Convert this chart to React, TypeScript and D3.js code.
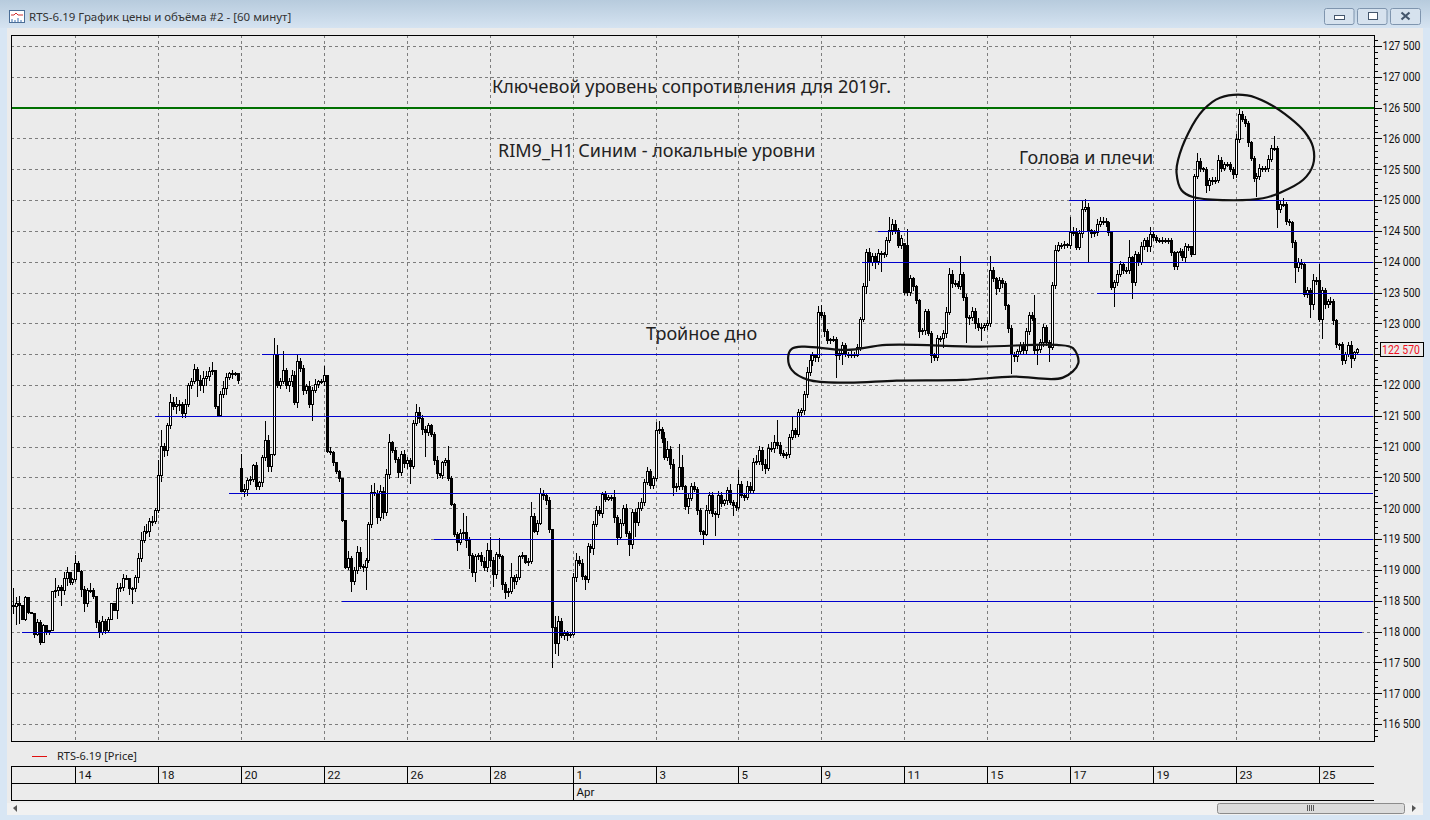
import * as d3 from 'd3';
import { useEffect, useRef } from 'react';

const W = 1430;
const H = 820;

// hourly closes left to right
const closes = [
    118410,118450,118420,118200,118550,118310,118300,117950,118150,117830,
    118100,118000,118010,118650,118660,118720,118660,118860,118960,118800,
    118840,119100,118970,118680,118460,118670,118670,118570,118150,117990,
    118170,118020,118200,118450,118340,118700,118710,118860,118860,118700,
    118700,118870,119190,119470,119620,119630,119780,119780,119960,120530,
    121000,120940,121340,121720,121650,121690,121690,121530,121690,122000,
    122060,122250,122070,122000,122100,122130,122220,122230,121650,121510,
    121850,121950,122120,122180,122180,122190,122070,120270,120300,120450,
    120460,120690,120360,120420,120820,121100,120680,120880,122490,122000,
    122060,122240,121990,122060,122150,121710,122380,122270,121910,121980,
    121680,121910,122010,122060,122060,122150,120920,120900,120740,120590,
    120480,119800,119040,119190,118820,118990,119290,119060,119040,119160,
    119740,120260,120240,119850,120280,119930,120540,121060,120930,120790,
    120580,120880,120720,120770,120680,121380,121550,121450,121280,121230,
    121340,121200,120780,120560,120530,120740,120770,120490,120060,119570,
    119450,119590,119610,119480,119240,118960,119220,119230,119130,119040,
    119310,119150,118930,119250,119220,118770,118630,118650,118880,118820,
    118870,119220,119230,119120,119140,119860,119630,119760,120240,120200,
    120120,119660,118070,117800,118160,117930,117970,117930,117950,118870,
    119160,119110,118890,118850,119380,119350,119730,119970,119910,120220,
    120150,120180,120180,119850,119520,119750,119990,119590,119420,119930,
    119770,120000,120090,120420,120590,120370,120490,121260,121280,121140,
    120820,120950,120710,120330,120350,120660,120350,120030,120160,120350,
    120310,119970,119620,119580,119960,120210,119920,119900,120210,120080,
    120120,120290,120090,120040,120020,120390,120210,120170,120360,120290,
    120750,120760,120930,120710,120650,120970,120970,121070,121020,120890,
    120860,120880,121150,121260,121200,121550,121580,121840,122210,122390,
    122480,122440,123180,123130,122870,122730,122740,122740,122480,122510,
    122640,122500,122500,122500,122480,122610,123070,123590,124150,123990,
    124080,124010,124130,124130,124120,124340,124500,124610,124500,124260,
    124370,123500,123500,123720,123590,123370,122870,122880,123200,122830,
    122480,122450,122750,122750,122830,123180,123800,123640,123640,123600,
    123790,123420,123100,123100,123190,122990,122940,122940,122960,123000,
    123860,123720,123560,123690,123640,123290,122910,122500,122460,122550,
    122640,122560,122860,123130,123080,122560,122580,122690,122940,122690,
    122610,123610,124190,124260,124260,124280,124260,124480,124480,124230,
    124450,124850,124880,124500,124450,124470,124610,124660,124660,124630,
    124470,123580,123660,123800,123950,123860,123860,124070,123660,124120,
    123990,124250,124340,124250,124440,124400,124340,124350,124340,124350,
    124350,124150,123930,124150,124170,124070,124240,124250,124120,125390,
    125630,125510,125500,125230,125310,125320,125320,125640,125520,125570,
    125580,125500,125410,125980,126390,126310,126250,125930,125680,125350,
    125390,125510,125510,125510,125660,125840,125840,124850,124930,124930,
    124660,124630,124310,123900,123990,123960,123470,123530,123310,123690,
    123690,123070,123530,123310,123360,123360,123040,122660,122660,122400,
    122500,122640,122430,122530,122570,
];

// wick lengths above the candle body, in points
const upperWicks = [
    280,110,130,0,20,10,10,0,60,40,
    20,0,0,0,210,40,30,100,90,10,
    30,145,40,30,60,30,120,30,0,30,
    80,30,40,20,10,90,80,80,50,0,
    20,40,90,150,100,110,60,100,50,250,
    270,60,50,140,90,120,60,30,80,40,
    60,90,50,90,120,100,80,150,10,10,
    60,120,80,30,60,20,10,240,90,40,
    60,30,60,30,40,320,90,0,280,160,
    60,310,30,60,100,80,110,50,60,40,
    90,60,80,20,30,160,0,80,30,0,
    30,0,0,120,30,60,90,80,40,30,
    40,120,150,60,100,60,100,150,30,60,
    40,50,60,60,40,60,140,100,70,60,
    40,30,40,60,20,30,40,240,30,20,
    40,70,320,260,50,30,40,50,60,80,
    130,230,60,40,270,30,40,50,230,40,
    60,30,60,20,50,240,60,50,90,60,
    30,60,10,180,90,60,60,40,30,80,
    120,60,70,30,60,40,60,70,60,50,
    60,40,30,120,40,80,60,80,40,60,
    60,100,70,60,80,50,40,140,140,40,
    100,140,60,90,60,390,200,30,80,60,
    70,40,30,30,100,60,50,30,70,60,
    30,60,100,40,60,230,60,40,80,60,
    60,100,80,60,90,70,100,120,370,60,
    60,40,60,240,50,60,40,60,80,90,
    60,30,100,110,50,40,30,60,40,50,
    60,40,30,50,30,60,40,70,60,70,
    60,60,70,50,30,60,230,80,60,40,
    70,0,270,60,40,40,30,50,30,40,
    50,40,60,50,60,90,100,60,60,50,
    300,40,50,30,70,60,100,60,40,60,
    230,60,30,60,50,40,30,60,30,40,
    60,50,70,60,60,380,50,60,50,40,
    40,60,80,60,40,50,30,250,80,60,
    60,130,140,70,30,40,80,60,60,50,
    30,0,50,60,60,40,50,280,30,60,
    40,70,50,60,130,40,30,40,50,40,
    30,30,30,30,50,40,60,40,0,30,
    130,50,30,40,50,60,50,90,60,40,
    40,40,30,90,80,60,50,30,30,30,
    50,70,40,50,70,60,200,40,50,110,
    40,30,30,40,70,60,30,60,40,110,
    60,270,60,40,30,60,40,30,20,30,
    30,60,80,20,30,
];

// wick lengths below the candle body, in points
const lowerWicks = [
    120,310,300,0,30,20,10,60,30,50,
    20,60,50,0,100,80,250,60,120,40,
    50,30,0,120,140,60,40,40,90,100,
    50,60,40,20,0,130,60,60,30,110,
    260,60,90,60,30,40,100,60,30,30,
    100,110,90,60,50,120,110,60,70,50,
    60,40,270,100,130,120,60,60,40,30,
    30,60,120,40,90,40,60,0,90,100,
    70,40,60,60,70,50,90,90,30,50,
    60,40,60,110,100,30,80,60,70,60,
    60,260,40,60,40,70,30,40,60,30,
    50,30,30,40,180,60,60,50,70,370,
    40,60,40,100,60,110,50,60,40,60,
    90,50,60,80,280,50,40,60,90,400,
    60,40,70,90,40,50,60,40,30,30,
    140,40,100,120,220,70,150,60,70,60,
    70,110,200,70,40,100,100,70,40,130,
    60,30,50,30,60,40,30,60,30,60,
    60,60,660,160,200,40,70,90,30,20,
    60,50,60,170,60,70,100,40,30,60,
    50,40,60,90,120,30,40,60,200,80,
    240,60,40,60,40,60,50,40,60,80,
    40,60,70,130,60,50,50,60,120,40,
    40,80,60,180,30,50,60,350,50,60,
    40,60,30,160,70,50,50,60,40,40,
    60,50,60,110,100,50,60,70,60,50,
    50,60,60,40,60,50,50,60,50,70,
    80,60,60,50,90,60,60,50,370,80,
    180,50,60,60,40,30,60,50,120,300,
    60,130,60,300,60,40,40,60,50,40,
    60,40,60,50,60,60,100,60,70,40,
    130,60,60,50,150,60,40,60,50,40,
    60,60,420,120,60,80,60,230,60,60,
    60,50,100,50,60,70,60,320,80,90,
    60,80,60,50,40,70,240,60,70,60,
    230,50,60,40,60,50,40,50,60,40,
    40,60,50,500,60,50,60,40,60,70,
    50,40,320,60,50,60,60,60,270,50,
    60,50,60,90,100,60,40,30,50,40,
    60,60,70,60,50,60,70,60,40,0,
    50,60,40,110,90,60,60,40,60,50,
    40,50,60,50,50,40,60,70,50,50,
    300,60,50,60,50,40,40,300,60,50,
    60,50,90,250,60,70,50,60,230,90,
    70,50,330,80,60,60,70,60,90,70,
    60,50,160,40,20,
];

// opens that don't equal the previous close (bar index -> open)
const openOverrides: Record<number, number> = { 0: 118420, 77: 120640, 301: 124300, 302: 124260 };

const dayLabels = ['14', '18', '20', '22', '26', '28', '1', '3', '5', '9', '11', '15', '17', '19', '23', '25'];
const firstDayBar = 21;
const barsPerLabel = 28;
const monthLabel = 'Apr';
const monthLabelPos = 6;

const priceTicks = d3.range(116500, 127501, 500);
const minorTicks = d3.range(116300, 127700, 100);
const hiddenPriceLabel = 122500; // sits under the last price tag

// hand-drawn levels: price, first bar
const blueLevels = [
    { price: 125000, from: 356.6 },
    { price: 124500, from: 292 },
    { price: 124000, from: 286.7 },
    { price: 123500, from: 366 },
    { price: 122500, from: 84 },
    { price: 121500, from: 48 },
    { price: 120240, from: 73 },
    { price: 119500, from: 142 },
    { price: 118500, from: 111 },
];
const bottomLevel = { price: 117985, from: 3, to: 455.5 };
const resistance = 126500;
const lastPrice = 122570;

// pen circles as [bar index, price]
const headCircle: [number, number][] = [
    [393, 125440], [394.7, 125160], [398.5, 125050], [408.7, 125000], [422.2, 125030], [428, 125120],
    [435.8, 125330], [439.1, 125570], [439.1, 125860], [436.4, 126100], [431.4, 126330], [423.6, 126580],
    [416.9, 126700], [407.7, 126660], [402, 126460], [397, 126090], [393.5, 125650],
];
const bottomCircle: [number, number][] = [
    [261.8, 122460], [263, 122245], [268.6, 122083], [281.6, 122039], [298.4, 122071], [320.8, 122083],
    [337.7, 122136], [354.6, 122120], [359.8, 122353], [358, 122597], [352.5, 122650], [326.6, 122623],
    [295, 122650], [281.6, 122569], [266.9, 122623], [263, 122585],
];

const notes = [
    { text: 'Ключевой уровень сопротивления для 2019г.', x: 492, y: 93 },
    { text: 'RIM9_H1 Синим - локальные уровни', x: 498, y: 157 },
    { text: 'Голова и плечи', x: 1019, y: 164 },
    { text: 'Тройное дно', x: 646, y: 340 },
];

const UI_FONT = '"Noto Sans", sans-serif';
const SCALE_FONT = 'Roboto, sans-serif';

const priceText = (v: number) => d3.format(',')(v).replace(',', ' ');

export default function App() {
    const svgRef = useRef<SVGSVGElement>(null);

    useEffect(() => {
        const svg = d3.select(svgRef.current);
        svg.selectAll('*').remove();

        const frame = { left: 11, right: 1374, top: 35, bottom: 741 };
        const x = d3.scaleLinear().domain([0, 454]).range([13.3, 1357.1]);
        const y = d3.scaleLinear().domain([116500, 127500]).range([724, 46]);
        const px = (v: number) => Math.round(v) + 0.5;

        // window chrome
        const defs = svg.append('defs');
        const grad = defs.append('linearGradient').attr('id', 'titleBar').attr('x1', 0).attr('x2', 0).attr('y1', 0).attr('y2', 1);
        grad.append('stop').attr('offset', 0).attr('stop-color', '#b7cbdd');
        grad.append('stop').attr('offset', 1).attr('stop-color', '#d5e3f1');

        svg.append('rect').attr('width', W).attr('height', H).attr('fill', '#d8e6f4');
        svg.append('rect').attr('width', W).attr('height', 28).attr('fill', 'url(#titleBar)');
        svg.append('rect').attr('x', 7).attr('y', 28).attr('width', 1416).attr('height', 787).attr('fill', '#ebebeb');
        svg.append('rect').attr('x', 7).attr('y', 803).attr('width', 1416).attr('height', 12).attr('fill', '#f1f1f1');

        // title icon
        const icon = svg.append('g');
        icon.append('rect').attr('x', 9.5).attr('y', 10.5).attr('width', 15).attr('height', 12).attr('fill', '#fff').attr('stroke', '#4a6d96');
        icon.append('path').attr('d', 'M11 15h3l2-2 2 2h5').attr('fill', 'none').attr('stroke', '#d03030');
        icon.append('path').attr('d', 'M12 22v-3M15 22v-2M18 22v-4M21 22v-2').attr('stroke', '#3a6fb0');

        svg.append('text').attr('x', 29).attr('y', 21).attr('font-family', UI_FONT).attr('font-size', 11.5).attr('fill', '#333')
            .text('RTS-6.19 График цены и объёма #2 - [60 минут]');

        // window buttons
        [1324.5, 1357.5, 1390.5].forEach((bx, i) => {
            svg.append('rect').attr('x', bx).attr('y', 8.5).attr('width', i === 2 ? 30 : 29.5).attr('height', 16).attr('rx', 2)
                .attr('fill', '#d6e2ee').attr('stroke', '#7f95ae');
            const cx = bx + 15;
            if (i === 0) svg.append('rect').attr('x', cx - 5).attr('y', 15.5).attr('width', 10).attr('height', 4).attr('fill', '#fff').attr('stroke', '#44566c');
            if (i === 1) svg.append('rect').attr('x', cx - 4).attr('y', 12.5).attr('width', 9).attr('height', 7).attr('fill', '#fff').attr('stroke', '#44566c');
            if (i === 2) svg.append('path').attr('d', `M${cx - 4} 12.5l8 7M${cx + 4} 12.5l-8 7`).attr('stroke', '#44566c').attr('stroke-width', 2.2);
        });

        // grid
        const dayBars = dayLabels.map((_, i) => firstDayBar + i * barsPerLabel);
        const grid = svg.append('g').attr('stroke', '#7d7d7d').attr('stroke-dasharray', '3,3');
        grid.selectAll('.h').data(priceTicks).enter().append('line')
            .attr('x1', frame.left).attr('x2', frame.right)
            .attr('y1', (d) => px(y(d))).attr('y2', (d) => px(y(d)));
        grid.selectAll('.v').data(dayBars).enter().append('line')
            .attr('y1', frame.top).attr('y2', frame.bottom)
            .attr('x1', (d) => px(x(d))).attr('x2', (d) => px(x(d)));

        // candles
        const candles = closes.map((close, i) => {
            const open = openOverrides[i] ?? closes[i - 1];
            return {
                i, open, close,
                high: Math.max(open, close) + (upperWicks[i] ?? 0),
                low: Math.min(open, close) - (lowerWicks[i] ?? 0),
            };
        });
        const bars = svg.append('g').attr('shape-rendering', 'crispEdges');
        bars.selectAll('.wick').data(candles).enter().append('line')
            .attr('x1', (d) => px(x(d.i))).attr('x2', (d) => px(x(d.i)))
            .attr('y1', (d) => y(d.high)).attr('y2', (d) => y(d.low))
            .attr('stroke', '#000');
        bars.selectAll('.body').data(candles).enter().append('rect')
            .attr('x', (d) => px(x(d.i)) - 1)
            .attr('width', 2)
            .attr('y', (d) => y(Math.max(d.open, d.close)))
            .attr('height', (d) => Math.max(1, Math.abs(y(d.open) - y(d.close))))
            .attr('fill', (d) => (d.close >= d.open ? '#fff' : '#000'))
            .attr('stroke', '#000');

        // price levels
        const levels = svg.append('g').attr('shape-rendering', 'crispEdges');
        levels.selectAll('.lvl').data(blueLevels).enter().append('line')
            .attr('x1', (d) => x(d.from)).attr('x2', frame.right - 1)
            .attr('y1', (d) => px(y(d.price))).attr('y2', (d) => px(y(d.price)))
            .attr('stroke', '#0000cc');
        levels.append('line')
            .attr('x1', x(bottomLevel.from)).attr('x2', x(bottomLevel.to))
            .attr('y1', px(y(bottomLevel.price))).attr('y2', px(y(bottomLevel.price)))
            .attr('stroke', '#0000cc');
        levels.append('line')
            .attr('x1', frame.left).attr('x2', frame.right)
            .attr('y1', y(resistance)).attr('y2', y(resistance))
            .attr('stroke', '#007000').attr('stroke-width', 2);

        // pen circles
        const pen = d3.line<[number, number]>()
            .x((d) => x(d[0])).y((d) => y(d[1]))
            .curve(d3.curveCatmullRomClosed);
        [headCircle, bottomCircle].forEach((pts) => {
            svg.append('path').attr('d', pen(pts)).attr('fill', 'none').attr('stroke', '#111').attr('stroke-width', 2.2);
        });

        // notes
        svg.selectAll('.note').data(notes).enter().append('text')
            .attr('x', (d) => d.x).attr('y', (d) => d.y)
            .attr('font-family', UI_FONT).attr('font-size', 18).attr('fill', '#222')
            .text((d) => d.text);

        // plot frame and price axis
        svg.append('rect').attr('x', frame.left + 0.5).attr('y', frame.top + 0.5)
            .attr('width', frame.right - frame.left).attr('height', frame.bottom - frame.top)
            .attr('fill', 'none').attr('stroke', '#000');

        svg.append('g').attr('shape-rendering', 'crispEdges').selectAll('.minor').data(minorTicks).enter().append('line')
            .attr('x1', frame.right).attr('x2', frame.right + 4)
            .attr('y1', (d) => px(y(d))).attr('y2', (d) => px(y(d)))
            .attr('stroke', '#000');

        const axis = svg.append('g')
            .attr('transform', `translate(${frame.right + 0.5},0)`)
            .call(d3.axisRight(y).tickValues(priceTicks).tickSize(7).tickPadding(1)
                .tickFormat((d) => ((d as number) === hiddenPriceLabel ? '' : priceText(d as number))));
        axis.select('.domain').remove();
        axis.selectAll('text')
            .attr('font-family', SCALE_FONT).attr('font-size', 12).attr('fill', '#111')
            .attr('textLength', 38).attr('lengthAdjust', 'spacingAndGlyphs');
        axis.selectAll('line').attr('shape-rendering', 'crispEdges');

        // last price tag
        svg.append('rect').attr('x', 1380.5).attr('y', 342.5).attr('width', 43).attr('height', 14).attr('fill', '#ebebeb').attr('stroke', '#000');
        svg.append('text').attr('x', 1382).attr('y', 354).attr('font-family', SCALE_FONT).attr('font-size', 12).attr('fill', '#f01020')
            .attr('textLength', 38).attr('lengthAdjust', 'spacingAndGlyphs')
            .text(priceText(lastPrice));

        // legend
        svg.append('line').attr('x1', 32).attr('x2', 47).attr('y1', 756.5).attr('y2', 756.5).attr('stroke', '#e01010');
        svg.append('text').attr('x', 57).attr('y', 760).attr('font-family', UI_FONT).attr('font-size', 11).attr('fill', '#222').text('RTS-6.19 [Price]');

        // time axis
        const timeAxis = svg.append('g').attr('shape-rendering', 'crispEdges').attr('stroke', '#000');
        [766, 783, 800].forEach((ly) => {
            timeAxis.append('line').attr('x1', frame.left).attr('x2', frame.right).attr('y1', ly + 0.5).attr('y2', ly + 0.5);
        });
        timeAxis.append('line').attr('x1', frame.left + 0.5).attr('x2', frame.left + 0.5).attr('y1', 766).attr('y2', 800);
        timeAxis.selectAll('.sep').data(dayBars).enter().append('line')
            .attr('x1', (d) => px(x(d))).attr('x2', (d) => px(x(d)))
            .attr('y1', 766).attr('y2', 783);
        const monthX = px(x(dayBars[monthLabelPos]));
        timeAxis.append('line').attr('x1', monthX).attr('x2', monthX).attr('y1', 783).attr('y2', 800);

        svg.selectAll('.day').data(dayLabels).enter().append('text')
            .attr('x', (_, i) => px(x(dayBars[i])) + 3).attr('y', 779)
            .attr('font-family', SCALE_FONT).attr('font-size', 11.5).attr('fill', '#111')
            .text((d) => d);
        svg.append('text').attr('x', monthX + 3).attr('y', 796)
            .attr('font-family', SCALE_FONT).attr('font-size', 11.5).attr('fill', '#111').text(monthLabel);

        // scrollbar
        svg.append('path').attr('d', 'M13 808l4-3v7z').attr('fill', '#555');
        svg.append('path').attr('d', 'M1416 808l-4-3v7z').attr('fill', '#555');
        svg.append('rect').attr('x', 1217.5).attr('y', 803.5).attr('width', 187).attr('height', 10).attr('rx', 2)
            .attr('fill', '#dcdcdc').attr('stroke', '#8c8c8c');
        svg.append('path').attr('d', 'M1307.5 805v6M1309.5 805v6M1311.5 805v6M1313.5 805v6').attr('stroke', '#555');
    }, []);

    return <svg ref={svgRef} width={W} height={H} style={{ position: 'absolute', left: 0, top: 0, display: 'block' }}></svg>;
}
